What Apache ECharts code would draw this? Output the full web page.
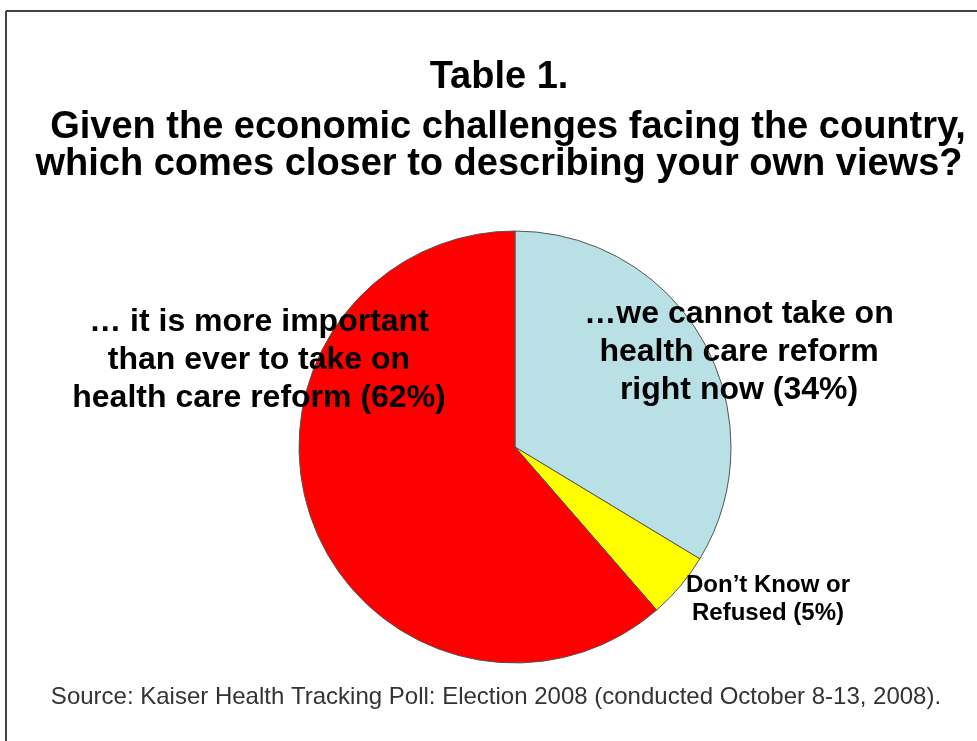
<!DOCTYPE html>
<html><head><meta charset="utf-8">
<script src="https://cdn.jsdelivr.net/npm/echarts@6/dist/echarts.min.js"></script>
<style>html,body{margin:0;padding:0;background:#fff}#c{width:977px;height:741px}</style>
</head><body><div id="c"></div>
<script>
const categories = [
  "…we cannot take on\nhealth care reform\nright now (34%)",
  "Don’t Know or\nRefused (5%)",
  "… it is more important\nthan ever to take on\nhealth care reform (62%)"
];
const values = [34, 5, 62];
const colors = ["#B9E0E4", "#FFFF00", "#FF0000"];
const titleLines = ["Table 1.", "Given the economic challenges facing the country,", "which comes closer to describing your own views?"];
const sourceText = "Source: Kaiser Health Tracking Poll: Election 2008 (conducted October 8-13, 2008).";

const labelPos = [
  {x: 739, y: 352, fs: 32, lh: 38},
  {x: 768, y: 599, fs: 24, lh: 28},
  {x: 259, y: 360, fs: 32, lh: 38}
];

const FF = '"Liberation Sans", Arial, sans-serif';
const chart = echarts.init(document.getElementById('c'));
chart.setOption({
  animation: false,
  backgroundColor: '#fff',
  graphic: [
    {type: 'line', shape: {x1: 6, y1: 11, x2: 977, y2: 11}, style: {stroke: '#444', lineWidth: 2}},
    {type: 'line', shape: {x1: 6, y1: 11, x2: 6, y2: 741}, style: {stroke: '#444', lineWidth: 2}},
    {type: 'text', x: 499, y: 78, style: {text: titleLines[0], font: 'bold 38px ' + FF, fill: '#000', textAlign: 'center', textVerticalAlign: 'middle'}},
    {type: 'text', x: 508, y: 128, style: {text: titleLines[1], font: 'bold 38px ' + FF, fill: '#000', textAlign: 'center', textVerticalAlign: 'middle'}},
    {type: 'text', x: 499, y: 165, style: {text: titleLines[2], font: 'bold 38px ' + FF, fill: '#000', textAlign: 'center', textVerticalAlign: 'middle'}},
    {type: 'text', x: 496, y: 697, style: {text: sourceText, font: '24px ' + FF, fill: '#333', textAlign: 'center', textVerticalAlign: 'middle'}}
  ],
  series: [{
    type: 'pie',
    center: [515, 447],
    radius: 216,
    startAngle: 90,
    clockwise: true,
    z: 2,
    itemStyle: {borderColor: '#555', borderWidth: 1},
    data: values.map((v, i) => ({
      value: v, name: categories[i],
      itemStyle: {color: colors[i]},
      label: {fontSize: labelPos[i].fs, lineHeight: labelPos[i].lh}
    })),
    label: {
      show: true, position: 'inside', formatter: '{b}',
      color: '#000', fontWeight: 'bold', fontFamily: FF,
      align: 'center'
    },
    labelLine: {show: false},
    labelLayout: function (p) {
      const lp = labelPos[p.dataIndex];
      return {x: lp.x, y: lp.y, align: 'center', verticalAlign: 'middle'};
    }
  }]
});
</script></body></html>
